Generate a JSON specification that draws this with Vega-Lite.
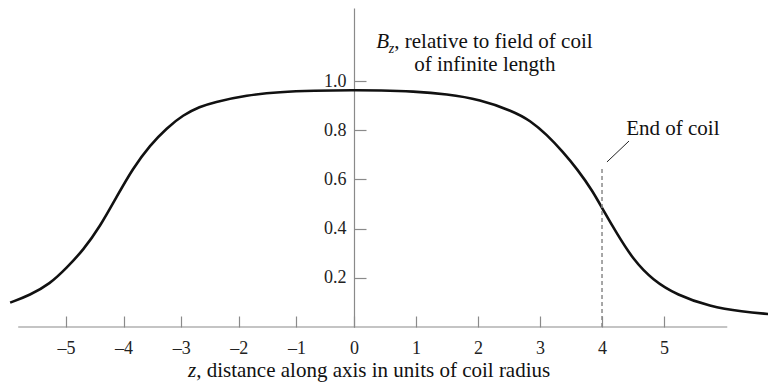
{
  "$schema": "https://vega.github.io/schema/vega-lite/v6.json",
  "width": 768,
  "height": 319,
  "autosize": "none",
  "padding": {"left": 0, "top": 8, "right": 0, "bottom": 57},
  "background": "white",
  "config": {"view": {"stroke": null}, "font": "Liberation Serif"},
  "data": {"values": [{}]},
  "datasets": {
    "curve": [
      {"z": -5.97, "B": 0.099}, {"z": -5.625, "B": 0.13}, {"z": -5.28, "B": 0.175},
      {"z": -4.99, "B": 0.24}, {"z": -4.7, "B": 0.313}, {"z": -4.41, "B": 0.408},
      {"z": -4.12, "B": 0.53}, {"z": -3.84, "B": 0.645}, {"z": -3.54, "B": 0.74},
      {"z": -3.25, "B": 0.809}, {"z": -2.97, "B": 0.862}, {"z": -2.67, "B": 0.896},
      {"z": -2.45, "B": 0.913}, {"z": -1.86, "B": 0.943}, {"z": -1.28, "B": 0.956},
      {"z": -0.71, "B": 0.961}, {"z": 0, "B": 0.963}, {"z": 0.42, "B": 0.962},
      {"z": 0.95, "B": 0.958}, {"z": 1.5, "B": 0.947}, {"z": 2.03, "B": 0.925},
      {"z": 2.56, "B": 0.878}, {"z": 2.84, "B": 0.84}, {"z": 3.11, "B": 0.782},
      {"z": 3.37, "B": 0.712}, {"z": 3.6, "B": 0.642}, {"z": 3.85, "B": 0.553},
      {"z": 4.03, "B": 0.47}, {"z": 4.24, "B": 0.38}, {"z": 4.5, "B": 0.275},
      {"z": 4.82, "B": 0.19}, {"z": 5.21, "B": 0.13}, {"z": 5.74, "B": 0.083},
      {"z": 6.27, "B": 0.062}, {"z": 6.68, "B": 0.053}
    ]
  },
  "layer": [
    {
      "data": {"name": "curve"},
      "mark": {"type": "line", "color": "#111111", "strokeWidth": 2.6, "interpolate": "basis"},
      "encoding": {
        "x": {
          "field": "z", "type": "quantitative",
          "scale": {"domain": [-6.146, 0, 6.677], "range": [0, 354, 768], "nice": false, "zero": false},
          "axis": {
            "values": [-5, -4, -3, -2, -1, 0, 1, 2, 3, 4, 5],
            "format": "d",
            "domain": false, "grid": false, "title": null,
            "tickSize": -11, "tickColor": "#8a8a8a", "tickWidth": 1.2,
            "labelFont": "Liberation Serif", "labelFontSize": 18, "labelColor": "#222222",
            "labelPadding": 23, "labelFlush": false, "labelOverlap": false,
            "labelExpr": "datum.value < 0 ? '–' + abs(datum.value) : datum.label"
          }
        },
        "y": {
          "field": "B", "type": "quantitative",
          "scale": {"domain": [0, 1.297], "nice": false, "zero": false},
          "axis": {
            "values": [0.2, 0.4, 0.6, 0.8, 1.0], "format": ".1f",
            "grid": false, "title": null, "offset": -354,
            "domainColor": "#8a8a8a", "domainWidth": 1.2,
            "tickSize": -12, "tickColor": "#8a8a8a", "tickWidth": 1.2,
            "labelFont": "Liberation Serif", "labelFontSize": 18, "labelColor": "#222222",
            "labelPadding": 20, "labelOverlap": false
          }
        }
      }
    },
    {
      "mark": {"type": "rule", "color": "#8a8a8a", "strokeWidth": 1.2},
      "encoding": {
        "x": {"datum": -5.83, "type": "quantitative"},
        "x2": {"datum": 6.02},
        "y": {"datum": 0, "type": "quantitative"}
      }
    },
    {
      "mark": {"type": "rule", "color": "#8a8a8a", "strokeWidth": 1.5, "strokeDash": [4, 3]},
      "encoding": {
        "x": {"datum": 4, "type": "quantitative"},
        "y": {"datum": 0, "type": "quantitative"},
        "y2": {"datum": 0.65}
      }
    },
    {
      "mark": {"type": "rule", "color": "#222222", "strokeWidth": 1},
      "encoding": {
        "x": {"datum": 4.08, "type": "quantitative"},
        "x2": {"datum": 4.435},
        "y": {"datum": 0.671, "type": "quantitative"},
        "y2": {"datum": 0.756}
      }
    },
    {
      "mark": {"type": "text", "font": "Liberation Serif", "fontSize": 21, "color": "#111111", "align": "left", "baseline": "middle"},
      "encoding": {
        "x": {"datum": 4.39, "type": "quantitative"},
        "y": {"datum": 0.805, "type": "quantitative"},
        "text": {"value": "End of coil"}
      }
    },
    {
      "mark": {"type": "text", "font": "Liberation Serif", "fontSize": 21, "fontStyle": "italic", "color": "#111111", "align": "left", "baseline": "middle"},
      "encoding": {
        "x": {"datum": 0.36, "type": "quantitative"},
        "y": {"datum": 1.159, "type": "quantitative"},
        "text": {"value": "B"}
      }
    },
    {
      "mark": {"type": "text", "font": "Liberation Serif", "fontSize": 14, "fontStyle": "italic", "color": "#111111", "align": "left", "baseline": "middle"},
      "encoding": {
        "x": {"datum": 0.56, "type": "quantitative"},
        "y": {"datum": 1.13, "type": "quantitative"},
        "text": {"value": "z"}
      }
    },
    {
      "mark": {"type": "text", "font": "Liberation Serif", "fontSize": 21, "color": "#111111", "align": "left", "baseline": "middle"},
      "encoding": {
        "x": {"datum": 0.65, "type": "quantitative"},
        "y": {"datum": 1.159, "type": "quantitative"},
        "text": {"value": ", relative to field of coil"}
      }
    },
    {
      "mark": {"type": "text", "font": "Liberation Serif", "fontSize": 21, "color": "#111111", "align": "center", "baseline": "middle"},
      "encoding": {
        "x": {"datum": 2.11, "type": "quantitative"},
        "y": {"datum": 1.065, "type": "quantitative"},
        "text": {"value": "of infinite length"}
      }
    },
    {
      "mark": {"type": "text", "font": "Liberation Serif", "fontSize": 21, "fontStyle": "italic", "color": "#111111", "align": "left", "baseline": "middle"},
      "encoding": {
        "x": {"datum": -2.88, "type": "quantitative"},
        "y": {"datum": -0.179, "type": "quantitative"},
        "text": {"value": "z"}
      }
    },
    {
      "mark": {"type": "text", "font": "Liberation Serif", "fontSize": 21, "color": "#111111", "align": "left", "baseline": "middle"},
      "encoding": {
        "x": {"datum": -2.74, "type": "quantitative"},
        "y": {"datum": -0.179, "type": "quantitative"},
        "text": {"value": ", distance along axis in units of coil radius"}
      }
    }
  ]
}
